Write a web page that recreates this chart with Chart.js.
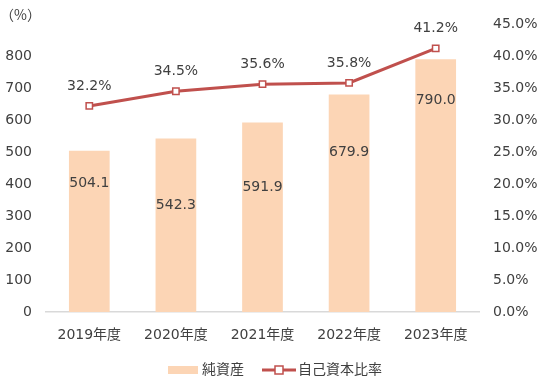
<!DOCTYPE html>
<html>
<head>
<meta charset="utf-8">
<script src="https://cdn.jsdelivr.net/npm/chart.js@4"></script>
<style>
    html, body { margin: 0; padding: 0; background: #fff; }
    #wrap { width: 550px; height: 392px; }
</style>
</head>
<body>
<div id="wrap"><canvas id="chart" width="550" height="392"></canvas></div>
<script>
const years = ['2019年度', '2020年度', '2021年度', '2022年度', '2023年度'];
const netAssets = [504.1, 542.3, 591.9, 679.9, 790.0];
const equityRatio = [32.2, 34.5, 35.6, 35.8, 41.2];
const leftTicks = [0, 100, 200, 300, 400, 500, 600, 700, 800];

const barColor = '#FCD5B5';
const lineColor = '#C0504D';
const textColor = '#404040';
const font = '"DejaVu Sans", "Noto Sans CJK JP", sans-serif';

// how far below the bar top each value label sits (px)
const barLabelDrop = [33, 67, 65, 58, 41];

const labelPlugin = {
    id: 'labels',
    afterDatasetsDraw(chart) {
        const ctx = chart.ctx;
        ctx.save();
        ctx.font = '14px ' + font;
        ctx.fillStyle = textColor;
        ctx.textAlign = 'center';
        ctx.textBaseline = 'middle';

        chart.getDatasetMeta(1).data.forEach((bar, i) => {
            ctx.fillText(netAssets[i].toFixed(1), bar.x, bar.y + barLabelDrop[i]);
        });
        chart.getDatasetMeta(0).data.forEach((pt, i) => {
            ctx.fillText(equityRatio[i].toFixed(1) + '%', pt.x, pt.y - 20);
        });

        // unit label
        ctx.textAlign = 'left';
        ctx.font = '14px "Noto Sans CJK JP", sans-serif';
        ctx.fillText('（%）', 0, 15);
        ctx.font = '14px ' + font;

        // legend
        const ly = 370;
        ctx.fillStyle = barColor;
        ctx.fillRect(168, ly - 4, 30, 8);
        ctx.fillStyle = textColor;
        ctx.fillText('純資産', 202, ly);

        ctx.strokeStyle = lineColor;
        ctx.lineWidth = 3;
        ctx.beginPath();
        ctx.moveTo(262, ly);
        ctx.lineTo(296, ly);
        ctx.stroke();
        ctx.fillStyle = '#fff';
        ctx.lineWidth = 1.5;
        ctx.fillRect(275, ly - 4, 8, 8);
        ctx.strokeRect(275, ly - 4, 8, 8);
        ctx.fillStyle = textColor;
        ctx.fillText('自己資本比率', 298, ly);
        ctx.restore();
    }
};

new Chart(document.getElementById('chart').getContext('2d'), {
    data: {
        labels: years,
        datasets: [
            {
                type: 'line',
                label: '自己資本比率',
                data: equityRatio,
                yAxisID: 'y1',
                borderColor: lineColor,
                borderWidth: 3,
                pointStyle: 'rect',
                pointRadius: 4.5,
                pointBorderWidth: 1.5,
                pointBackgroundColor: '#fff',
                pointBorderColor: lineColor,
                tension: 0,
                order: 0
            },
            {
                type: 'bar',
                label: '純資産',
                data: netAssets,
                yAxisID: 'y',
                backgroundColor: barColor,
                barPercentage: 0.94,
                categoryPercentage: 0.5,
                order: 1
            }
        ]
    },
    options: {
        responsive: false,
        animation: false,
        layout: { padding: { top: 24, left: 0, right: 0, bottom: 0 } },
        plugins: {
            legend: { display: false },
            tooltip: { enabled: false }
        },
        scales: {
            x: {
                grid: { display: false, drawTicks: false },
                border: { color: '#D9D9D9', width: 1.5 },
                ticks: { color: textColor, font: { family: font, size: 14 }, padding: 15 },
                afterFit: axis => { axis.height = 80; }
            },
            y: {
                position: 'left',
                min: 0,
                max: 900,
                afterBuildTicks: axis => { axis.ticks = leftTicks.map(v => ({ value: v })); },
                grid: { display: false, drawTicks: false },
                border: { display: false },
                ticks: { color: textColor, font: { family: font, size: 14 }, padding: 14 },
                afterFit: axis => { axis.width = 46; }
            },
            y1: {
                position: 'right',
                min: 0,
                max: 45,
                grid: { display: false, drawTicks: false },
                border: { display: false },
                ticks: {
                    stepSize: 5,
                    color: textColor,
                    font: { family: font, size: 14 },
                    padding: 14,
                    callback: v => v.toFixed(1) + '%'
                },
                afterFit: axis => { axis.width = 71; }
            }
        }
    },
    plugins: [labelPlugin]
});
</script>
</body>
</html>
